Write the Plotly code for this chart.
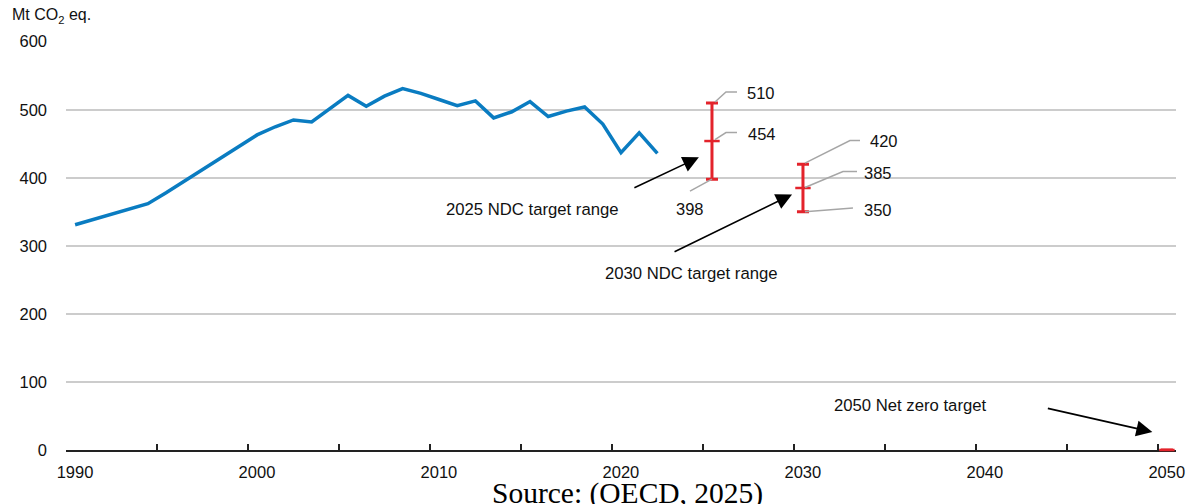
import plotly.graph_objects as go

# ---- data ----
years = list(range(1990, 2023))
emissions = [331, 339, 347, 355, 362, 378, 395, 412, 430, 447, 463, 475, 485, 482,
             502, 521, 505, 520, 531, 524, 515, 506, 513, 488, 497, 512, 490, 498,
             504, 479, 437, 466, 436]

target_years = [2025, 2030, 2050]
target_low = [398, 350, 0]
target_mid = [454, 385, 0]
target_high = [510, 420, 0]

target_texts = ["2025 NDC target range", "2030 NDC target range", "2050 Net zero target"]
x_tick_years = list(range(1990, 2051, 5))
x_label_years = list(range(1990, 2051, 10))
y_ticks = [0, 100, 200, 300, 400, 500, 600]

NARROW = "Liberation Sans Narrow, Arial Narrow, Liberation Sans, Arial, sans-serif"
RED = "#E3232B"
TXT = "#111111"

# values plotted at mid-year
xs = [y + 0.5 for y in years]
txs = [y + 0.5 for y in target_years]

fig = go.Figure()
fig.add_trace(go.Scatter(x=xs, y=emissions, mode="lines",
                         line=dict(color="#0A7CC1", width=3.5), hoverinfo="skip"))

fig.add_trace(go.Scatter(
    x=txs, y=target_mid, mode="markers",
    marker=dict(symbol="line-ew", size=11, line=dict(color=RED, width=2.5)),
    error_y=dict(type="data", symmetric=False,
                 array=[h - m for h, m in zip(target_high, target_mid)],
                 arrayminus=[m - l for m, l in zip(target_mid, target_low)],
                 color=RED, thickness=3, width=6),
    cliponaxis=False, hoverinfo="skip"))

shapes = []
annotations = []

# leader lines (pixel offsets from each value point) and value labels
leaders = [
    (0, target_high[0], [(3, 1), (14, 11), (25, 11)], (33, 10, "left")),
    (0, target_mid[0], [(3, 1.5), (14, 8.5), (25, 8.5)], (34, 7.5, "left")),
    (0, target_low[0], [(0, 0), (-22, -12)], (-22, -29.5, "center")),
    (1, target_high[1], [(2, 1), (47, 23.7), (57, 23.7)], (65, 22.7, "left")),
    (1, target_mid[1], [(2, 0.5), (40, 16.5), (54, 16.5)], (59, 15.5, "left")),
    (1, target_low[1], [(2, 0), (50, 3.7)], (59, 1.4, "left")),
]
for idx, val, pts, (lx, ly, anchor) in leaders:
    path = "M" + " L".join(f"{px},{py}" for px, py in pts)
    shapes.append(dict(type="path", xref="x", yref="y", xsizemode="pixel", ysizemode="pixel",
                       xanchor=txs[idx], yanchor=val, path=path,
                       line=dict(color="#A6A6A6", width=1.5), layer="above"))
    annotations.append(dict(x=txs[idx], y=val, xref="x", yref="y", text=str(val),
                            showarrow=False, xshift=lx, yshift=ly, xanchor=anchor,
                            yanchor="middle", font=dict(family=NARROW, size=16.5, color=TXT)))

# arrows and texts
arrow_specs = [
    (txs[0] - 0.72, 430, -66, 31, 2015.66, 353.5),
    (txs[1] - 0.6, 375.5, -119, 58, 2024.4, 259.6),
    (txs[2] - 0.8, 26.4, -106, -24, 2036.4, 66),
]
for (tx, ty, ax, ay, lx, ly), txt in zip(arrow_specs, target_texts):
    annotations.append(dict(x=tx, y=ty, xref="x", yref="y", ax=ax, ay=ay, text=" ",
                            showarrow=True, arrowhead=2, arrowsize=2, arrowwidth=1.6,
                            arrowcolor="#000000", standoff=0, font=dict(size=1)))
    annotations.append(dict(x=lx, y=ly, xref="x", yref="y", text=txt, showarrow=False,
                            font=dict(family=NARROW, size=16.7, color=TXT)))

annotations.append(dict(x=0.506, y=-0.062, xref="paper", yref="paper", yanchor="top",
                        text="Source: (OECD, 2025)", showarrow=False,
                        font=dict(family="Liberation Serif, Times New Roman, serif",
                                  size=29.5, color="#000000")))

fig.update_layout(
    width=1187, height=504,
    margin=dict(l=66, r=11, t=41, b=54, autoexpand=False),
    paper_bgcolor="white", plot_bgcolor="white",
    showlegend=False,
    title=dict(text="Mt CO<sub>2</sub> eq.", x=12 / 1187, xanchor="left",
               xref="container", yref="container", y=1 - 9 / 504, yanchor="top",
               font=dict(family=NARROW, size=16, color=TXT)),
    shapes=shapes, annotations=annotations,
)
fig.update_xaxes(range=[1990, 2051], tickvals=x_tick_years,
                 ticktext=[str(y) if y in x_label_years else "" for y in x_tick_years],
                 ticks="inside", ticklen=6, tickwidth=1.5, tickcolor="#222222",
                 showline=True, linecolor="#222222", linewidth=2, showgrid=False,
                 zeroline=False, ticklabelshift=9, ticklabelstandoff=6, automargin=False,
                 tickfont=dict(family=NARROW, size=16.5, color=TXT), layer="below traces")
fig.update_yaxes(range=[0, 601], tickvals=y_ticks, showgrid=True, gridcolor="#CCCCCC",
                 gridwidth=1.5, zeroline=False, showline=False, ticks="", automargin=False,
                 ticklabelstandoff=18, tickfont=dict(family=NARROW, size=16.5, color=TXT))

fig.write_html("out.html", config={"displayModeBar": False},
               post_script="document.body.style.margin='0';")
